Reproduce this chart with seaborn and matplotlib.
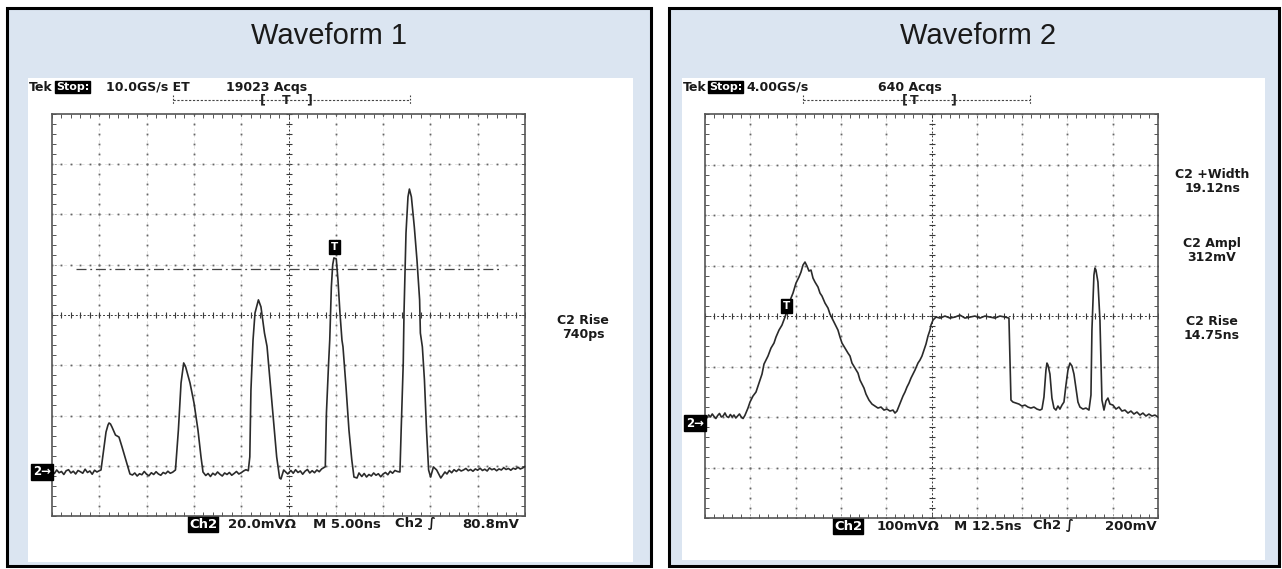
import matplotlib
matplotlib.use("Agg")
import matplotlib.pyplot as plt
from matplotlib.patches import Rectangle
import pandas as pd
import seaborn as sns

sns.set_style("white")
plt.rcParams["font.family"] = ["DejaVu Sans"]

# ---------------- Waveform 1 : 20 mV/div, 5 ns/div, trigger 80.8 mV ----------------
wf1_lead = [(0.0, 0.4), (0.25, -0.6), (0.5, 0.8), (0.75, -0.3), (1.0, 0.2), (1.25, -1.0),
            (1.5, 0.5), (1.75, 0.9), (2.0, -0.4), (2.25, 0.3), (2.5, -0.8), (2.75, 0.6),
            (3.0, 0.1), (3.25, -0.5), (3.5, 1.1), (3.75, -0.2), (4.0, 0.4), (4.25, -0.9),
            (4.5, 0.7), (4.75, 0.0), (5.0, 0.5)]
wf1_pulse1 = [(5.18, 0.8), (5.39, 6.8), (5.71, 15.9), (5.92, 18.7), (6.03, 19.5), (6.18, 19.1),
              (6.34, 17.9), (6.71, 14.7), (7.08, 13.9), (7.40, 10.0), (7.87, 4.0), (8.24, -0.8)]
wf1_gap1 = [(8.5, -1.2), (8.75, -0.4), (9.0, -1.6), (9.25, -0.7), (9.5, -1.1), (9.75, 0.2),
            (10.0, -0.9), (10.25, -1.5), (10.5, -0.3), (10.75, -1.0), (11.0, 0.1), (11.25, -0.8),
            (11.5, -1.3), (11.75, -0.2), (12.0, -0.7), (12.25, 0.3), (12.5, -0.5), (12.75, -0.1)]
wf1_pulse2 = [(13.05, 0.8), (13.36, 16.7), (13.64, 35.4), (13.92, 43.4), (14.13, 41.8), (14.59, 35.4),
              (15.01, 27.5), (15.43, 16.7), (15.75, 6.0), (15.96, 0.0)]
wf1_gap2 = [(16.25, -1.4), (16.5, -0.6), (16.75, -1.8), (17.0, -0.5), (17.25, -1.2), (17.5, 0.0),
            (17.75, -0.9), (18.0, -1.6), (18.25, -0.4), (18.5, -1.0), (18.75, -0.2), (19.0, -1.3),
            (19.25, -0.6), (19.5, 0.2), (19.75, -0.8), (20.0, -0.3), (20.25, 0.4), (20.5, 0.9),
            (20.75, 0.5)]
wf1_pulse3 = [(20.91, 6.0), (21.03, 32.6), (21.25, 52.5), (21.46, 63.3), (21.82, 68.5), (22.09, 65.7),
              (22.46, 55.3), (22.73, 50.0), (23.04, 36.6), (23.41, 20.7), (23.75, 6.0), (24.06, -2.4),
              (24.20, -2.8), (24.49, 0.8), (24.92, -0.8)]
wf1_gap3 = [(25.25, 0.6), (25.5, -0.5), (25.75, 0.9), (26.0, -0.2), (26.25, 0.4), (26.5, -0.9),
            (26.75, 0.3), (27.0, 1.0), (27.25, -0.4), (27.5, 0.5), (27.75, -0.3), (28.0, 0.8),
            (28.25, 0.1), (28.5, 1.2)]
wf1_pulse4 = [(28.89, 2.1), (29.01, 23.5), (29.24, 43.4), (29.36, 52.5), (29.53, 73.6), (29.67, 82.4),
              (29.80, 85.2), (30.05, 84.8), (30.23, 76.4), (30.44, 63.3), (30.65, 52.5), (30.76, 49.8),
              (31.08, 33.8), (31.39, 16.7), (31.69, 4.8), (31.92, -2.0), (32.24, -2.4), (32.45, -0.4)]
wf1_gap4 = [(32.75, -1.8), (33.0, -0.6), (33.25, -2.0), (33.5, -1.0), (33.75, -1.6), (34.0, -0.4),
            (34.25, -1.3), (34.5, -0.7), (34.75, -1.9), (35.0, -0.8), (35.25, -0.2), (35.5, -1.1),
            (35.75, 0.3), (36.0, -0.5), (36.25, 0.6), (36.5, 0.2)]
wf1_pulse5 = [(36.78, 0.0), (36.91, 16.7), (37.13, 43.4), (37.21, 63.3), (37.42, 95.1), (37.63, 109.5),
              (37.78, 112.6), (37.99, 109.5), (38.30, 97.5), (38.58, 84.4), (38.86, 68.5), (38.94, 55.3),
              (39.15, 49.8), (39.37, 36.6), (39.59, 16.7), (39.81, 0.8), (40.02, -2.0), (40.32, 2.0),
              (40.66, 0.8), (41.10, -2.4), (41.54, 0.0)]
wf1_tail = [(41.75, -0.8), (42.0, 0.6), (42.25, -0.3), (42.5, 0.9), (42.75, 0.2), (43.0, 1.1),
            (43.25, 0.4), (43.5, 0.8), (43.75, 1.4), (44.0, 0.5), (44.25, 1.0), (44.5, 0.3),
            (44.75, 1.2), (45.0, 0.7), (45.25, 1.5), (45.5, 0.6), (45.75, 1.1), (46.0, 0.4),
            (46.25, 1.6), (46.5, 0.9), (46.75, 1.3), (47.0, 0.5), (47.25, 1.2), (47.5, 0.8),
            (47.75, 1.7), (48.0, 1.0), (48.25, 1.4), (48.5, 0.7), (48.75, 1.5), (49.0, 1.1),
            (49.25, 1.9), (49.5, 1.2), (49.75, 1.6), (50.0, 2.2)]
wf1_trigger_mv = 80.8
wf1_trigger_t = 29.9

# ---------------- Waveform 2 : 100 mV/div, 12.5 ns/div, trigger 200 mV ----------------
wf2_lead = [(0.0, 14), (0.5, 10), (1.0, 16), (1.5, 12), (2.0, 18), (2.5, 13), (3.0, 9), (3.5, 15),
            (4.0, 19), (4.5, 12), (5.0, 14), (5.5, 20), (6.0, 13), (6.5, 11), (7.0, 17), (7.5, 12),
            (8.0, 16), (8.5, 10), (9.0, 14), (9.5, 18), (10.0, 12), (10.5, 9), (11.0, 15)]
wf2_hump = [(11.86, 29.7), (12.42, 41.6), (13.24, 53.5), (14.07, 61.4), (14.62, 73.3), (15.17, 85.1),
            (15.73, 97.0), (16.28, 116.8), (16.83, 124.7), (17.38, 132.7), (18.21, 148.5), (19.04, 158.4),
            (19.59, 170.3), (20.42, 184.1), (21.24, 194.0), (22.07, 209.9), (22.90, 227.7), (23.73, 247.5),
            (24.28, 257.4), (25.11, 277.2), (25.93, 289.1), (26.49, 299.0), (27.04, 312.8), (27.59, 318.8),
            (28.14, 310.9), (28.69, 301.0), (29.25, 303.0), (29.80, 287.1), (30.35, 279.2), (31.18, 269.3),
            (31.73, 257.4), (32.28, 251.5), (33.11, 237.6), (33.94, 227.7), (34.49, 215.8), (35.04, 207.9),
            (35.87, 196.0), (36.69, 184.1), (37.25, 170.3), (37.80, 158.4), (38.63, 148.5), (39.45, 138.6),
            (40.01, 132.7), (40.56, 118.8), (41.39, 108.9), (42.21, 99.0), (42.77, 85.1), (43.32, 77.2),
            (43.87, 69.3), (44.42, 57.4), (45.25, 45.5), (46.08, 37.6), (46.90, 33.7), (47.73, 29.7),
            (48.56, 31.7), (49.39, 25.7), (50.21, 27.7), (51.04, 23.8), (51.87, 25.7), (52.42, 19.8),
            (52.97, 23.8)]
wf2_ramp = [(53.52, 33.7), (54.08, 43.6), (54.63, 53.5), (55.18, 61.4), (55.73, 71.3), (56.29, 79.2),
            (56.84, 89.1), (57.39, 97.0), (57.94, 104.9), (58.77, 118.8), (59.32, 124.7), (59.87, 132.7),
            (60.43, 144.5), (60.98, 156.4), (61.53, 172.3), (62.08, 184.1), (62.36, 194.0), (62.91, 203.9),
            (63.74, 209.9)]
wf2_plateau = [(64.84, 207.9), (66.22, 211.9), (67.60, 207.9), (68.98, 209.9), (70.36, 213.8),
               (71.73, 207.9), (73.11, 209.9), (74.49, 211.9), (75.87, 207.9), (77.25, 211.9),
               (78.63, 209.9), (80.01, 207.9), (81.39, 211.9), (82.77, 209.9), (83.87, 207.9)]
wf2_low = [(84.43, 45.5), (84.98, 41.6), (85.80, 39.6), (86.63, 37.6), (87.46, 33.7), (88.29, 35.6),
           (89.11, 31.7), (89.94, 29.7), (90.77, 31.7), (91.60, 27.7), (92.43, 25.7), (92.98, 27.7)]
wf2_spike_a = [(93.53, 51.5), (94.08, 104.9), (94.36, 118.8), (94.64, 114.8), (95.18, 97.0), (95.73, 49.5),
               (96.29, 29.7), (96.84, 25.7), (97.39, 33.7), (97.94, 27.7), (98.50, 35.6), (99.05, 41.6)]
wf2_spike_b = [(99.60, 75.2), (100.15, 104.9), (100.70, 118.8), (101.26, 112.9), (101.81, 97.0),
               (102.36, 69.3), (102.91, 41.6), (103.46, 31.7), (104.29, 27.7), (105.12, 29.7), (105.95, 25.7)]
wf2_spike_c = [(106.50, 55.4), (106.77, 184.1), (107.32, 293.0), (107.60, 306.9), (107.88, 303.0),
               (108.43, 279.2), (108.70, 243.6), (108.98, 203.9), (109.26, 124.7), (109.53, 45.5),
               (110.09, 25.7), (110.64, 43.6), (111.19, 49.5), (111.74, 37.6), (112.57, 35.6)]
wf2_tail = [(113.40, 27.7), (114.22, 31.7), (115.05, 23.8), (115.88, 25.7), (116.71, 19.8), (117.53, 23.8),
            (118.36, 17.8), (119.19, 21.8), (120.02, 15.8), (120.84, 19.8), (121.67, 13.9), (122.50, 17.8),
            (123.33, 13.9), (124.15, 15.8), (125.0, 11.9)]
wf2_trigger_mv = 200.0
wf2_trigger_t = 22.5

# screen setups: (ns/div, mV/div, ground offset in divisions from the bottom)
wf1_scale = (5.0, 20.0, 0.876)
wf2_scale = (12.5, 100.0, 1.88)

TRACE = "#2b2b2b"
GRAT = "#555555"
PANEL = "#dbe5f1"


def frame(segments):
    rows = [p for seg in segments for p in seg]
    return pd.DataFrame(rows, columns=["t", "mv"])


def graticule(ax, scale):
    ns_div, mv_div, gnd = scale
    x0, x1 = 0.0, 10 * ns_div
    y0, y1 = -gnd * mv_div, (8 - gnd) * mv_div
    ax.set_xlim(x0, x1)
    ax.set_ylim(y0, y1)
    xminor = [x0 + k * ns_div / 5 for k in range(51)]
    yminor = [y0 + k * mv_div / 5 for k in range(41)]
    for i in range(1, 10):
        x = x0 + i * ns_div
        if i == 5:
            ax.axvline(x, color="#3a3a3a", lw=0.7, ls=(0, (2, 2)), zorder=1)
            ax.plot([x] * len(yminor), yminor, ls="none", marker="_", ms=5, mew=0.8,
                    color="#3a3a3a", zorder=1.5)
        else:
            ax.axvline(x, color="#e4e4e4", lw=0.7, ls=(0, (3, 3)), zorder=1)
            ax.plot([x] * len(yminor), yminor, ls="none", marker="s", ms=1.3, mew=0,
                    color="#666", zorder=1.5)
    for j in range(1, 8):
        y = y0 + j * mv_div
        if j == 4:
            ax.axhline(y, color="#3a3a3a", lw=0.7, ls=(0, (2, 2)), zorder=1)
            ax.plot(xminor, [y] * len(xminor), ls="none", marker="|", ms=5, mew=0.8,
                    color="#3a3a3a", zorder=1.5)
        else:
            ax.axhline(y, color="#e4e4e4", lw=0.7, ls=(0, (3, 3)), zorder=1)
            ax.plot(xminor, [y] * len(xminor), ls="none", marker="s", ms=1.3, mew=0,
                    color="#666", zorder=1.5)
    for s in ax.spines.values():
        s.set_visible(True)
        s.set_color(GRAT)
        s.set_linewidth(1.2)
    ax.set_xticks(xminor)
    ax.set_yticks(yminor)
    ax.tick_params(which="both", direction="in", length=3, width=0.7, color=GRAT,
                   top=True, right=True, bottom=True, left=True,
                   labelbottom=False, labelleft=False)


W, H = 1282, 569
fig = plt.figure(figsize=(W / 100, H / 100), dpi=100)
bg = fig.add_axes([0, 0, 1, 1])
bg.set_xlim(0, W)
bg.set_ylim(H, 0)
bg.axis("off")

# panels
for (x0, x1, wx0, wx1, wy1) in [(7, 651, 28, 633, 562), (669, 1279, 682, 1265, 560)]:
    bg.add_patch(Rectangle((x0, 8), x1 - x0, 558, fc=PANEL, ec="black", lw=2.2))
    bg.add_patch(Rectangle((wx0, 78), wx1 - wx0, wy1 - 78, fc="white", ec="none"))

bg.text(329, 36, "Waveform 1", ha="center", va="center", fontsize=21,
        family="Liberation Sans", color="#1a1a1a")
bg.text(978, 36, "Waveform 2", ha="center", va="center", fontsize=21,
        family="Liberation Sans", color="#1a1a1a")

hdr = dict(fontsize=9, fontweight="bold", va="center", color="#1a1a1a")
boxed = dict(fontsize=8, fontweight="bold", va="center", color="white",
             bbox=dict(boxstyle="square,pad=0.08", fc="black", ec="black"))

# header lines
bg.text(29, 87, "Tek", **hdr)
bg.text(56, 87, "Stop:", **boxed)
bg.text(106, 87, "10.0GS/s ET", **hdr)
bg.text(226, 87, "19023 Acqs", **hdr)
bg.text(683, 87, "Tek", **hdr)
bg.text(709, 87, "Stop:", **boxed)
bg.text(746, 87, "4.00GS/s", **hdr)
bg.text(878, 87, "640 Acqs", **hdr)

# record position brackets
for (a, b, marks) in [(173, 410, [(263, "["), (286, "T"), (309, "]")]),
                      (803, 1030, [(905, "["), (914, "T"), (953, "]")])]:
    bg.plot([a, b], [100, 100], color="#444", lw=0.8, ls=(0, (2, 1.5)))
    for e in (a, b):
        bg.plot([e, e], [95, 105], color="#444", lw=0.8, ls=(0, (1.5, 1.5)))
    for (xm, ch) in marks:
        bg.text(xm, 100, ch, ha="center", va="center", fontsize=9, fontweight="bold",
                color="#222")

# measurement readouts
meas = dict(fontsize=9, fontweight="bold", ha="center", va="center", color="#1a1a1a")
bg.text(583, 320, "C2 Rise", **meas)
bg.text(583, 334, "740ps", **meas)
bg.text(1212, 174, "C2 +Width", **meas)
bg.text(1212, 188, "19.12ns", **meas)
bg.text(1212, 243, "C2 Ampl", **meas)
bg.text(1212, 257, "312mV", **meas)
bg.text(1212, 321, "C2 Rise", **meas)
bg.text(1212, 335, "14.75ns", **meas)

# bottom status lines
foot = dict(fontsize=9.5, fontweight="bold", va="center", color="#1a1a1a")
footbox = dict(fontsize=9.5, fontweight="bold", va="center", color="white",
               bbox=dict(boxstyle="square,pad=0.1", fc="black", ec="black"))
bg.text(189, 524, "Ch2", **footbox)
bg.text(228, 524, "20.0mVΩ", **foot)
bg.text(313, 524, "M 5.00ns", **foot)
bg.text(395, 524, "Ch2 ∫", **foot)
bg.text(462, 524, "80.8mV", **foot)
bg.text(834, 526, "Ch2", **footbox)
bg.text(877, 526, "100mVΩ", **foot)
bg.text(954, 526, "M 12.5ns", **foot)
bg.text(1033, 526, "Ch2 ∫", **foot)
bg.text(1105, 526, "200mV", **foot)

# scope screens
ax1 = fig.add_axes([52 / W, (H - 516) / H, 473 / W, 402 / H])
ax2 = fig.add_axes([705 / W, (H - 518) / H, 453 / W, 404 / H])

for ax, segs, scale in [(ax1, [wf1_lead, wf1_pulse1, wf1_gap1, wf1_pulse2, wf1_gap2, wf1_pulse3,
                               wf1_gap3, wf1_pulse4, wf1_gap4, wf1_pulse5, wf1_tail], wf1_scale),
                        (ax2, [wf2_lead, wf2_hump, wf2_ramp, wf2_plateau, wf2_low, wf2_spike_a,
                               wf2_spike_b, wf2_spike_c, wf2_tail], wf2_scale)]:
    graticule(ax, scale)
    sns.lineplot(data=frame(segs), x="t", y="mv", ax=ax, sort=False, estimator=None,
                 color=TRACE, lw=1.2, zorder=3)
    ax.set_xlabel("")
    ax.set_ylabel("")
    # ground reference marker
    ax.annotate("2→", xy=(0, 0), xycoords=("axes fraction", "data"), xytext=(-1, 0),
                textcoords="offset pixels", ha="right", va="center", color="white",
                fontsize=8.5, fontweight="bold",
                bbox=dict(boxstyle="square,pad=0.15", fc="black", ec="black"),
                annotation_clip=False, zorder=5)

# trigger level (dash-dot) and trigger markers
ax1.axhline(wf1_trigger_mv, xmin=0.05, xmax=0.95, color="#444", lw=0.9,
            ls=(0, (8, 3, 1.5, 3)), zorder=2)
ax1.annotate("T", xy=(wf1_trigger_t, wf1_trigger_mv), xytext=(0, 22), textcoords="offset pixels",
             ha="center", va="center", color="white", fontsize=7.5, fontweight="bold",
             bbox=dict(boxstyle="square,pad=0.18", fc="black", ec="black"),
             annotation_clip=False, zorder=5)
ax2.annotate("T", xy=(wf2_trigger_t, wf2_trigger_mv), xytext=(0, 16), textcoords="offset pixels",
             ha="center", va="center", color="white", fontsize=7.5, fontweight="bold",
             bbox=dict(boxstyle="square,pad=0.18", fc="black", ec="black"),
             annotation_clip=False, zorder=5)

fig.savefig("out.png", dpi=100)
